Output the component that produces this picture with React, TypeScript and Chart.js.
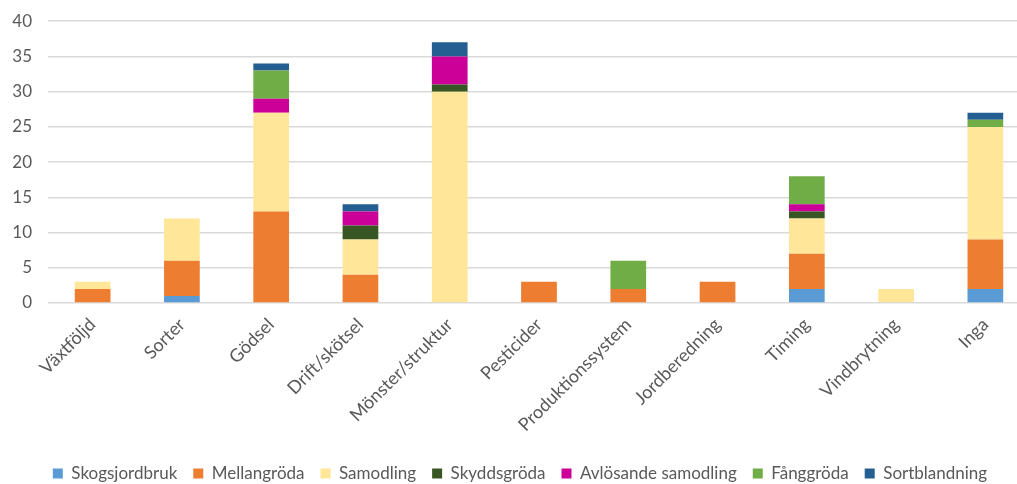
import React, { useEffect, useRef } from "react";
import { Chart, registerables } from "chart.js";

Chart.register(...registerables);

const categories = [
  "Växtföljd",
  "Sorter",
  "Gödsel",
  "Drift/skötsel",
  "Mönster/struktur",
  "Pesticider",
  "Produktionssystem",
  "Jordberedning",
  "Timing",
  "Vindbrytning",
  "Inga",
];

const skogsjordbruk = [0, 1, 0, 0, 0, 0, 0, 0, 2, 0, 2];
const mellangroda = [2, 5, 13, 4, 0, 3, 2, 3, 5, 0, 7];
const samodling = [1, 6, 14, 5, 30, 0, 0, 0, 5, 2, 16];
const skyddsgroda = [0, 0, 0, 2, 1, 0, 0, 0, 1, 0, 0];
const avlosande = [0, 0, 2, 2, 4, 0, 0, 0, 1, 0, 0];
const fanggroda = [0, 0, 4, 0, 0, 0, 4, 0, 4, 0, 1];
const sortblandning = [0, 0, 1, 1, 2, 0, 0, 0, 0, 0, 1];

const yTicks = [0, 5, 10, 15, 20, 25, 30, 35, 40];

const series = [
  { label: "Skogsjordbruk", data: skogsjordbruk, color: "#5B9BD5" },
  { label: "Mellangröda", data: mellangroda, color: "#ED7D31" },
  { label: "Samodling", data: samodling, color: "#FFE699" },
  { label: "Skyddsgröda", data: skyddsgroda, color: "#375623" },
  { label: "Avlösande samodling", data: avlosande, color: "#CC0099" },
  { label: "Fånggröda", data: fanggroda, color: "#70AD47" },
  { label: "Sortblandning", data: sortblandning, color: "#255E91" },
];

export default function App() {
  const ref = useRef<HTMLCanvasElement | null>(null);

  useEffect(() => {
    if (!ref.current) return;
    const font = "Lato, 'Open Sans', sans-serif";
    const chart = new Chart(ref.current, {
      type: "bar",
      data: {
        labels: categories,
        datasets: series.map((s) => ({
          label: s.label,
          data: s.data,
          backgroundColor: s.color,
          borderWidth: 0,
          categoryPercentage: 1,
          barPercentage: 0.4,
        })),
      },
      options: {
        animation: false,
        responsive: false,
        maintainAspectRatio: false,
        layout: { padding: { top: 8, right: 0, left: 0, bottom: 0 } },
        plugins: {
          tooltip: { enabled: false },
          legend: {
            position: "bottom",
            labels: {
              boxWidth: 10,
              boxHeight: 10,
              padding: 16,
              color: "#595959",
              font: { family: font, size: 17 },
            },
          },
        },
        scales: {
          x: {
            stacked: true,
            grid: { display: false, drawTicks: false },
            border: { display: false },
            ticks: {
              color: "#595959",
              font: { family: font, size: 18 },
              minRotation: 45,
              maxRotation: 45,
              autoSkip: false,
              padding: 11,
            },
            afterFit: (s: any) => {
              s.height = 146;
            },
          },
          y: {
            stacked: true,
            min: 0,
            max: 40,
            afterBuildTicks: (s: any) => {
              s.ticks = yTicks.map((v) => ({ value: v }));
            },
            grid: { color: "#d9d9d9", lineWidth: 1.5, drawTicks: false },
            border: { display: false },
            ticks: {
              color: "#595959",
              font: { family: font, size: 17 },
              padding: 16,
            },
            afterFit: (s: any) => {
              s.width = 38;
            },
          },
        },
      },
    });
    return () => chart.destroy();
  }, []);

  return (
    <div
      style={{
        position: "fixed",
        left: 0,
        top: 0,
        width: 1017,
        height: 484,
        overflow: "hidden",
        background: "#fff",
      }}
    >
      <canvas
        ref={ref}
        width={1020}
        height={497}
        style={{ display: "block", position: "absolute", left: 10, top: -5 }}
      />
    </div>
  );
}
